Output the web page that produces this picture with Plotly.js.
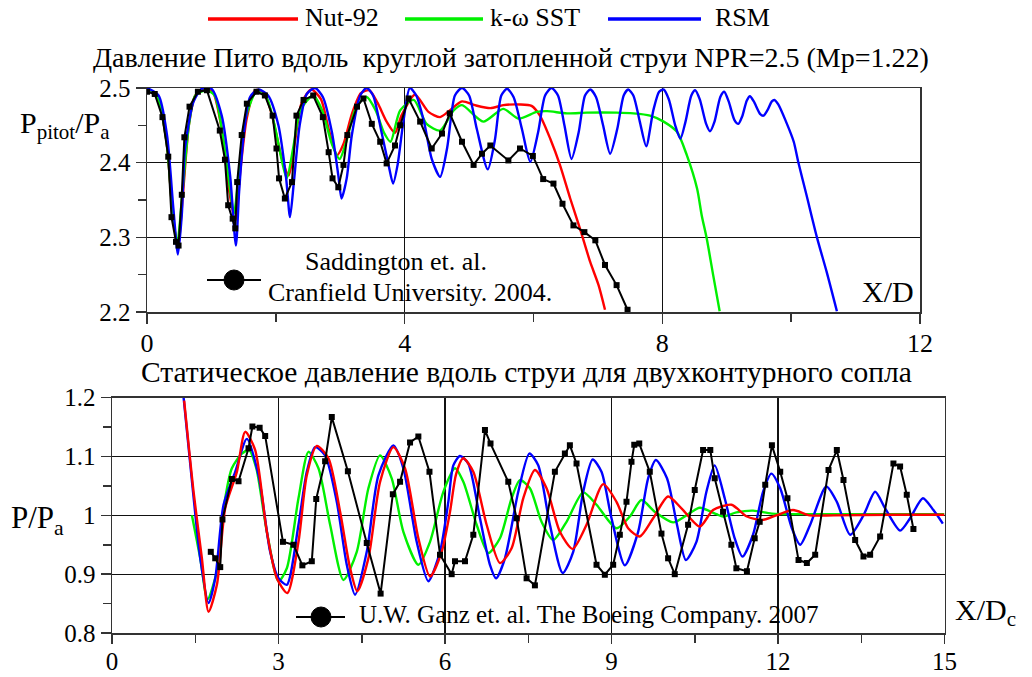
<!DOCTYPE html>
<html><head><meta charset="utf-8">
<script src="https://cdn.plot.ly/plotly-3.0.1.min.js"></script>
<style>html,body{margin:0;padding:0;background:#fff}#chart{width:1032px;height:677px}</style>
</head><body><div id="chart"></div>
<script>
// ---------- Top chart: Pitot pressure (X/D) ----------
const topExpX = [0.00,0.12,0.24,0.33,0.38,0.45,0.49,0.54,0.58,0.66,0.79,0.93,1.13,1.21,1.26,1.33,1.37,1.40,1.47,1.55,1.70,1.83,1.95,2.01,2.05,2.14,2.25,2.32,2.43,2.58,2.73,2.82,2.88,2.97,3.05,3.11,3.26,3.36,3.49,3.62,3.72,3.85,3.93,4.06,4.24,4.42,4.58,4.70,4.89,5.07,5.20,5.33,5.61,5.79,5.99,6.15,6.31,6.45,6.62,6.79,6.96,7.11,7.29,7.46];
const topExpY = [2.495,2.492,2.461,2.408,2.327,2.294,2.289,2.357,2.434,2.475,2.495,2.497,2.443,2.404,2.343,2.325,2.312,2.374,2.437,2.479,2.495,2.490,2.463,2.419,2.379,2.352,2.374,2.463,2.484,2.490,2.461,2.414,2.379,2.367,2.397,2.437,2.475,2.486,2.452,2.428,2.399,2.423,2.450,2.486,2.455,2.419,2.439,2.466,2.428,2.397,2.412,2.423,2.403,2.419,2.409,2.378,2.372,2.345,2.316,2.307,2.296,2.263,2.236,2.203];

const topNutX = [0.00,0.15,0.30,0.40,0.48,0.56,0.65,0.75,0.90,1.02,1.15,1.28,1.37,1.45,1.55,1.68,1.82,1.95,2.08,2.20,2.30,2.40,2.55,2.70,2.82,2.95,3.05,3.18,3.32,3.45,3.58,3.72,3.85,3.95,4.16,4.37,4.55,4.70,4.89,5.09,5.33,5.53,5.79,5.97,6.10,6.26,6.41,6.57,6.72,6.88,7.01,7.11];
const topNutY = [2.497,2.490,2.430,2.330,2.288,2.360,2.450,2.490,2.499,2.495,2.450,2.360,2.322,2.390,2.460,2.497,2.493,2.460,2.410,2.383,2.430,2.480,2.498,2.485,2.445,2.410,2.425,2.465,2.493,2.497,2.480,2.455,2.440,2.463,2.491,2.468,2.461,2.470,2.482,2.477,2.473,2.477,2.478,2.476,2.463,2.432,2.397,2.352,2.312,2.267,2.236,2.203];

const topSstX = [0.00,0.15,0.30,0.40,0.47,0.55,0.65,0.75,0.92,1.05,1.17,1.28,1.35,1.43,1.53,1.70,1.85,1.98,2.10,2.17,2.27,2.38,2.58,2.72,2.87,2.99,3.10,3.25,3.41,3.55,3.68,3.78,3.93,4.14,4.34,4.55,4.76,4.89,5.22,5.53,5.77,6.05,6.21,6.52,6.83,7.29,7.55,7.81,8.02,8.23,8.38,8.54,8.61,8.69,8.79,8.89];
const topSstY = [2.500,2.490,2.430,2.330,2.292,2.360,2.450,2.490,2.497,2.490,2.440,2.370,2.332,2.390,2.460,2.495,2.488,2.450,2.400,2.379,2.420,2.470,2.490,2.470,2.425,2.405,2.430,2.475,2.488,2.470,2.440,2.428,2.470,2.484,2.452,2.443,2.470,2.477,2.455,2.472,2.459,2.468,2.469,2.466,2.467,2.467,2.466,2.463,2.455,2.441,2.410,2.365,2.330,2.298,2.249,2.201];

const topRsmX = [0.00,0.18,0.31,0.41,0.48,0.54,0.59,0.72,0.85,1.00,1.16,1.29,1.38,1.43,1.50,1.60,1.73,1.88,2.04,2.16,2.22,2.28,2.37,2.48,2.61,2.73,2.87,2.97,3.02,3.10,3.18,3.31,3.41,3.51,3.64,3.75,3.82,3.89,3.98,4.08,4.18,4.30,4.42,4.55,4.66,4.78,4.89,5.00,5.12,5.29,5.40,5.50,5.59,5.69,5.82,5.95,6.07,6.18,6.28,6.38,6.48,6.59,6.70,6.80,6.88,6.97,7.08,7.19,7.30,7.40,7.47,7.55,7.65,7.75,7.86,7.95,8.02,8.10,8.20,8.28,8.36,8.45,8.51,8.58,8.68,8.74,8.81,8.90,8.96,9.03,9.12,9.18,9.24,9.31,9.36,9.42,9.52,9.57,9.63,9.70,9.74,9.80,9.92,10.04,10.11,10.24,10.40,10.55,10.71];
const topRsmY = [2.500,2.490,2.437,2.338,2.277,2.330,2.419,2.481,2.499,2.499,2.463,2.383,2.289,2.361,2.437,2.488,2.498,2.490,2.450,2.379,2.327,2.374,2.450,2.492,2.500,2.488,2.441,2.383,2.352,2.379,2.437,2.490,2.500,2.490,2.441,2.397,2.372,2.397,2.455,2.500,2.490,2.455,2.405,2.381,2.420,2.490,2.500,2.490,2.445,2.391,2.430,2.490,2.499,2.488,2.445,2.401,2.440,2.490,2.500,2.490,2.450,2.405,2.440,2.490,2.498,2.488,2.450,2.412,2.445,2.490,2.498,2.490,2.455,2.422,2.470,2.495,2.498,2.485,2.450,2.432,2.455,2.490,2.497,2.485,2.452,2.442,2.455,2.488,2.495,2.482,2.457,2.452,2.462,2.483,2.489,2.482,2.465,2.463,2.470,2.482,2.484,2.478,2.455,2.428,2.401,2.356,2.300,2.254,2.201];

// ---------- Bottom chart: static pressure (X/Dc) ----------
const botExpX = [1.78,1.86,1.95,1.99,2.16,2.28,2.46,2.53,2.66,2.76,3.08,3.27,3.43,3.60,3.68,3.84,3.96,4.25,4.59,4.84,5.06,5.19,5.37,5.52,5.72,5.91,6.12,6.18,6.36,6.51,6.72,6.82,7.14,7.29,7.47,7.62,7.98,8.16,8.25,8.37,8.73,8.88,9.03,9.15,9.27,9.36,9.41,9.50,9.69,9.90,10.02,10.14,10.38,10.50,10.65,10.78,10.86,11.01,11.16,11.25,11.44,11.58,11.67,11.77,11.89,12.04,12.17,12.37,12.52,12.67,12.91,13.06,13.18,13.39,13.54,13.66,13.84,14.08,14.20,14.32,14.44];
const botExpY = [0.938,0.927,0.912,0.993,1.062,1.058,1.114,1.151,1.149,1.135,0.955,0.950,0.915,0.922,1.028,1.092,1.167,1.075,0.953,0.867,1.036,1.057,1.124,1.134,1.074,0.933,0.900,0.922,0.922,0.967,1.145,1.122,1.057,0.995,0.893,0.881,1.074,1.105,1.119,1.088,0.916,0.899,0.916,0.967,1.023,1.091,1.120,1.122,1.074,0.969,0.927,0.900,0.984,1.043,1.111,1.111,1.063,1.006,0.950,0.910,0.905,0.961,0.989,1.052,1.119,1.074,1.029,0.924,0.919,0.933,1.077,1.111,1.060,0.958,0.930,0.933,0.964,1.088,1.083,1.035,0.977];

const botNutX = [1.30,1.47,1.62,1.74,1.89,2.04,2.25,2.40,2.58,2.79,2.97,3.16,3.36,3.51,3.69,3.90,4.11,4.29,4.42,4.62,4.83,5.07,5.28,5.52,5.73,5.94,6.09,6.20,6.33,6.51,6.75,6.99,7.20,7.41,7.62,7.83,8.07,8.30,8.55,8.85,9.09,9.30,9.51,9.75,10.02,10.26,10.59,10.83,11.16,11.44,11.71,11.97,12.27,12.57,13.00,14.00,15.00];
const botNutY = [1.195,1.040,0.927,0.836,0.882,1.012,1.074,1.142,1.111,0.972,0.893,0.868,0.955,1.068,1.118,1.097,1.006,0.910,0.871,0.927,1.057,1.116,1.080,0.961,0.896,0.938,1.006,1.070,1.097,1.074,0.984,0.919,0.944,1.029,1.077,1.046,0.972,0.943,0.984,1.053,1.023,0.978,0.964,0.995,1.032,1.012,0.981,1.009,1.018,0.998,0.992,1.000,1.009,1.000,1.000,1.001,1.001];

const botSstX = [1.44,1.59,1.72,1.89,2.04,2.16,2.34,2.47,2.60,2.79,3.00,3.15,3.36,3.54,3.72,3.93,4.17,4.41,4.62,4.83,5.04,5.25,5.52,5.73,5.97,6.18,6.33,6.57,6.78,6.99,7.20,7.35,7.53,7.74,7.95,8.19,8.49,8.73,9.09,9.33,9.54,9.78,10.11,10.35,10.59,10.89,11.01,11.25,11.55,11.89,12.50,15.00];
const botSstY = [1.000,0.927,0.857,0.905,1.029,1.080,1.105,1.111,1.080,0.972,0.888,0.910,1.029,1.108,1.080,0.984,0.890,0.938,1.046,1.102,1.063,0.972,0.916,0.955,1.040,1.080,1.057,0.984,0.936,0.961,1.029,1.060,1.046,0.989,0.958,0.989,1.039,1.018,0.978,0.998,1.026,1.006,0.988,1.000,1.013,1.002,0.998,1.005,1.008,1.003,1.002,1.002];

const botRsmX = [1.29,1.46,1.59,1.74,1.86,2.01,2.22,2.43,2.64,2.85,3.00,3.15,3.36,3.51,3.66,3.84,4.05,4.23,4.38,4.59,4.80,5.07,5.25,5.49,5.70,5.91,6.06,6.15,6.27,6.42,6.63,6.81,6.92,7.08,7.32,7.52,7.68,7.89,8.12,8.31,8.49,8.66,8.82,9.00,9.24,9.48,9.66,9.80,10.00,10.18,10.34,10.53,10.71,10.86,11.04,11.22,11.36,11.55,11.73,11.88,12.04,12.25,12.40,12.58,12.87,13.06,13.30,13.54,13.75,13.93,14.20,14.38,14.61,14.80,14.97];
const botRsmY = [1.200,1.040,0.927,0.851,0.893,1.018,1.074,1.130,1.068,0.938,0.893,0.882,0.984,1.074,1.116,1.102,1.023,0.916,0.865,0.938,1.068,1.119,1.080,0.955,0.888,0.938,1.023,1.085,1.101,1.088,0.995,0.916,0.893,0.927,1.040,1.105,1.085,0.984,0.902,0.938,1.040,1.095,1.074,0.995,0.915,0.972,1.063,1.094,1.063,0.984,0.924,0.955,1.040,1.085,1.029,0.961,0.930,0.967,1.040,1.071,1.046,0.978,0.950,0.984,1.049,1.023,0.967,1.000,1.040,1.012,0.974,0.995,1.029,1.009,0.986];

// ---------- Tick labels ----------
const topXTicks = [0,4,8,12];
const topXMinor = [2,6,10];
const topYTicks = [2.2,2.3,2.4,2.5];
const topYTickText = ['2.2','2.3','2.4','2.5'];
const topYMinor = [2.25,2.35,2.45];
const botXTicks = [0,3,6,9,12,15];
const botXMinor = [1.5,4.5,7.5,10.5,13.5];
const botYTicks = [0.8,0.9,1.0,1.1,1.2];
const botYTickText = ['0.8','0.9','1','1.1','1.2'];
const botYMinor = [0.85,0.95,1.05,1.15];

const seriesNames = ['Nut-92','k-\u03c9 SST','RSM'];
const seriesColors = ['#ff0000','#00f000','#0000ff'];

// ---------- Layout helpers ----------
const W = 1032, H = 677;
const PX = x => x / W, PY = y => 1 - y / H;
const FONT = 'Liberation Serif, Times New Roman, serif';
const INK = '#111';

function lineTrace(x, y, color, xa, ya) {
  return {x, y, xaxis: xa, yaxis: ya, type: 'scatter', mode: 'lines',
    line: {color, width: 2.4, shape: 'spline', smoothing: 0.7},
    showlegend: false, hoverinfo: 'skip'};
}
function expTrace(x, y, name, xa, ya) {
  return {x, y, xaxis: xa, yaxis: ya, type: 'scatter', mode: 'lines+markers', name,
    line: {color: '#000', width: 2}, marker: {symbol: 'square', size: 6, color: '#000'},
    showlegend: false, hoverinfo: 'skip'};
}

const data = [
  lineTrace(topNutX, topNutY, seriesColors[0], 'x', 'y'),
  lineTrace(topSstX, topSstY, seriesColors[1], 'x', 'y'),
  lineTrace(topRsmX, topRsmY, seriesColors[2], 'x', 'y'),
  expTrace(topExpX, topExpY, 'Saddington et. al.', 'x', 'y'),
  lineTrace(botSstX, botSstY, seriesColors[1], 'x2', 'y2'),
  lineTrace(botRsmX, botRsmY, seriesColors[2], 'x2', 'y2'),
  lineTrace(botNutX, botNutY, seriesColors[0], 'x2', 'y2'),
  expTrace(botExpX, botExpY, 'U.W. Ganz et. al.', 'x2', 'y2')
];

function axis(extra) {
  return Object.assign({
    showline: true, mirror: true, linecolor: '#333', linewidth: 1.5,
    showgrid: true, gridcolor: INK, gridwidth: 1.3, zeroline: false,
    ticks: 'outside', ticklen: 10, tickwidth: 1.5, tickcolor: '#333',
    tickfont: {family: FONT, size: 25, color: '#000'}, fixedrange: true
  }, extra);
}
function minor(vals) {
  return {tickvals: vals, ticks: 'outside', ticklen: 8, tickwidth: 1.5, tickcolor: '#333', showgrid: false};
}

const annFont = (s) => ({family: FONT, size: s, color: '#000'});
function ann(text, x, y, xanchor, size) {
  return {text, x: PX(x), y: PY(y), xref: 'paper', yref: 'paper', xanchor, yanchor: 'middle',
    showarrow: false, font: annFont(size)};
}

const annotations = [
  ann('Давление Пито вдоль \u00a0круглой затопленной струи NPR=2.5 (Mp=1.22)', 511, 57, 'center', 28),
  ann('Статическое давление вдоль струи для двухконтурного сопла', 526, 372, 'center', 29.5),
  ann(seriesNames[0], 303, 18, 'left', 26),
  ann(seriesNames[1], 488, 18, 'left', 26),
  ann(seriesNames[2], 713, 18, 'left', 26),
  ann('P<sub>pitot</sub>/P<sub>a</sub>', 18, 125, 'left', 30),
  ann('P/P<sub>a</sub>', 9, 520, 'left', 31),
  ann('X/D', 916, 291, 'right', 30),
  ann('X/D<sub>c</sub>', 953, 612, 'left', 30),
  ann('Saddington et. al.', 303, 261, 'left', 26),
  ann('Cranfield University. 2004.', 266, 292, 'left', 26),
  ann('U.W. Ganz et. al. The Boeing Company. 2007', 357, 614, 'left', 25)
];

function seg(x0, x1, y, color, w) {
  return {type: 'line', xref: 'paper', yref: 'paper', x0: PX(x0), x1: PX(x1), y0: PY(y), y1: PY(y),
    line: {color, width: w}, layer: 'above'};
}
function dot(cx, cy, r) {
  return {type: 'circle', xref: 'paper', yref: 'paper', x0: PX(cx - r), x1: PX(cx + r), y0: PY(cy + r), y1: PY(cy - r),
    fillcolor: '#000', line: {color: '#000', width: 1}, layer: 'above'};
}
function box(x0, x1, y0, y1) {
  return {type: 'rect', xref: 'paper', yref: 'paper', x0: PX(x0), x1: PX(x1), y0: PY(y1), y1: PY(y0),
    fillcolor: '#fff', line: {width: 0}, layer: 'between'};
}

const shapes = [
  box(200, 566, 246, 307),
  box(286, 916, 600, 631),
  seg(208, 298, 19, seriesColors[0], 3.5),
  seg(405, 483, 19, seriesColors[1], 3.5),
  seg(608, 701, 19, seriesColors[2], 3.5),
  seg(207, 261, 280, '#000', 2.2), dot(234, 280, 10),
  seg(296, 345, 617, '#000', 2.2), dot(321, 617, 10)
];

const layout = {
  width: W, height: H, margin: {l: 0, r: 0, t: 0, b: 0},
  paper_bgcolor: '#fff', plot_bgcolor: '#fff', showlegend: false,
  xaxis: axis({domain: [PX(147), PX(920)], range: [0, 12], tickvals: topXTicks, anchor: 'y', ticklabelstandoff: -3, tickfont: {family: FONT, size: 26, color: '#000'}, minor: minor(topXMinor)}),
  yaxis: axis({domain: [PY(312), PY(88)], range: [2.2, 2.5], tickvals: topYTicks, ticktext: topYTickText, anchor: 'x', minor: minor(topYMinor)}),
  xaxis2: axis({domain: [PX(112), PX(944.5)], range: [0, 15], tickvals: botXTicks, anchor: 'y2', ticklen: 9, ticklabelstandoff: -4, minor: minor(botXMinor)}),
  yaxis2: axis({domain: [PY(633), PY(397.7)], range: [0.8, 1.2], tickvals: botYTicks, ticktext: botYTickText, anchor: 'x2', minor: minor(botYMinor)}),
  annotations, shapes
};

Plotly.newPlot('chart', data, layout, {staticPlot: true, displayModeBar: false});
</script>
</body></html>
